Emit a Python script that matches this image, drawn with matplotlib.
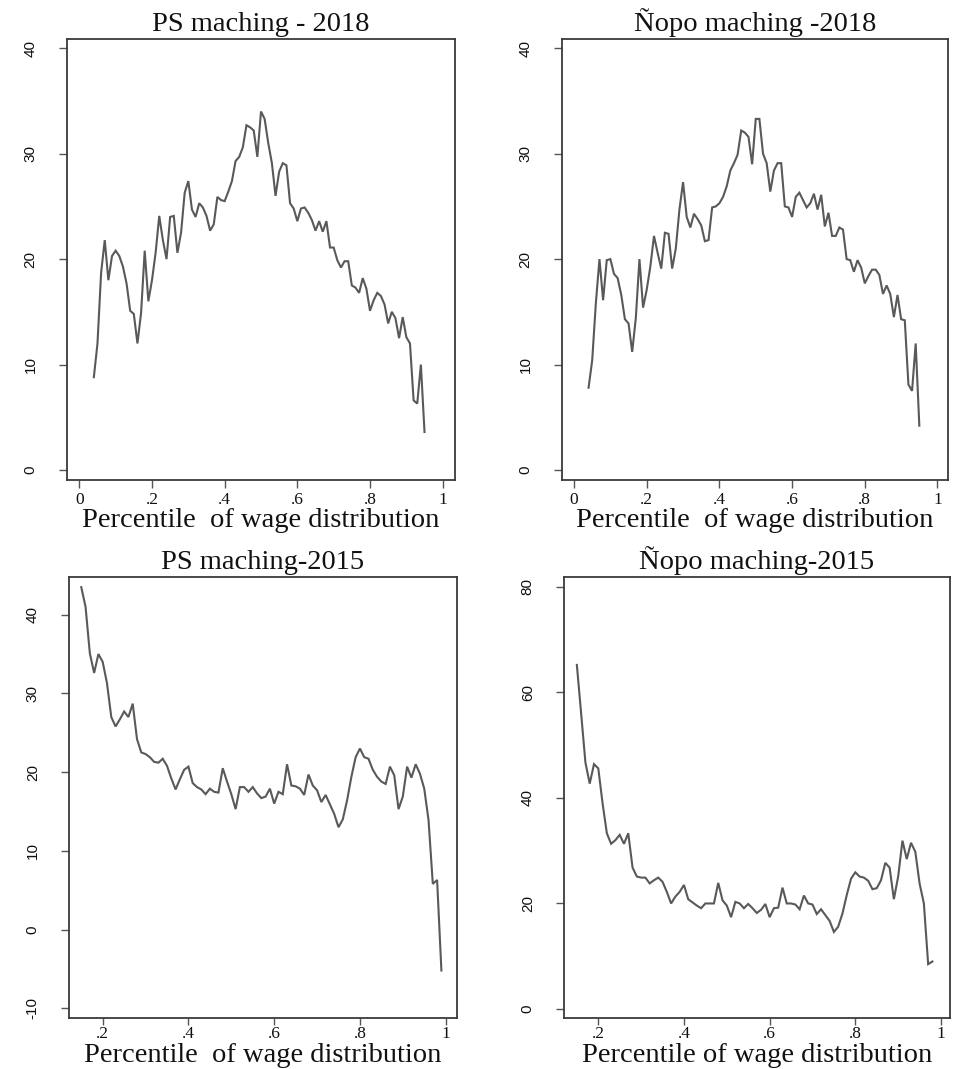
import numpy as np
import matplotlib
matplotlib.use("Agg")
import matplotlib.pyplot as plt

# Wage-gap estimates by percentile of the wage distribution
pct_2018 = np.round(np.arange(4, 96) / 100, 2)      # .04 ... .95
pct_ps_2015 = np.round(np.arange(15, 100) / 100, 2)  # .15 ... .99
pct_nopo_2015 = np.round(np.arange(15, 99) / 100, 2) # .15 ... .98

ps_2018 = [
    8.8, 12.0, 18.7, 21.8, 18.0, 20.3, 20.8, 20.3, 19.3, 17.7,
    15.1, 14.8, 12.0, 14.9, 20.8, 16.0, 18.0, 20.6, 24.1, 21.8,
    20.0, 24.0, 24.1, 20.6, 22.5, 26.3, 27.4, 24.7, 24.0, 25.3,
    24.9, 24.1, 22.7, 23.3, 25.9, 25.6, 25.5, 26.4, 27.4, 29.3,
    29.7, 30.6, 32.7, 32.5, 32.2, 29.7, 34.0, 33.3, 31.0, 29.1,
    26.0, 28.3, 29.1, 28.9, 25.3, 24.8, 23.6, 24.8, 24.9, 24.4,
    23.7, 22.7, 23.6, 22.6, 23.6, 21.1, 21.1, 19.9, 19.2, 19.8,
    19.8, 17.5, 17.3, 16.8, 18.2, 17.2, 15.1, 16.1, 16.8, 16.5,
    15.7, 13.9, 15.0, 14.4, 12.5, 14.5, 12.6, 12.0, 6.6, 6.3,
    10.0, 3.6,
]

nopo_2018 = [
    7.8, 10.4, 15.8, 20.0, 16.1, 19.9, 20.0, 18.6, 18.2, 16.6,
    14.3, 13.9, 11.2, 14.4, 20.0, 15.4, 17.1, 19.3, 22.2, 20.6,
    19.1, 22.5, 22.4, 19.1, 21.0, 24.7, 27.3, 24.0, 23.0, 24.3,
    23.8, 23.2, 21.7, 21.8, 24.9, 25.0, 25.3, 25.9, 26.9, 28.4,
    29.1, 29.9, 32.2, 32.0, 31.6, 29.0, 33.3, 33.3, 30.0, 29.1,
    26.4, 28.4, 29.1, 29.1, 25.0, 24.9, 24.0, 25.9, 26.3, 25.6,
    24.9, 25.3, 26.2, 24.7, 26.1, 23.1, 24.4, 22.2, 22.2, 23.0,
    22.8, 20.0, 19.9, 18.8, 19.9, 19.2, 17.7, 18.4, 19.0, 19.0,
    18.5, 16.7, 17.5, 16.7, 14.5, 16.6, 14.3, 14.2, 8.1, 7.5,
    12.0, 4.2,
]

ps_2015 = [
    43.5, 41.0, 35.1, 32.6, 35.0, 34.0, 31.3, 27.0, 25.8, 26.7,
    27.7, 27.0, 28.7, 24.2, 22.5, 22.3, 21.9, 21.3, 21.2, 21.7,
    20.8, 19.2, 17.8, 19.1, 20.3, 20.7, 18.6, 18.1, 17.8, 17.2,
    17.9, 17.5, 17.4, 20.5, 18.8, 17.2, 15.3, 18.1, 18.1, 17.5,
    18.1, 17.3, 16.7, 16.9, 17.9, 16.0, 17.5, 17.2, 21.0, 18.3,
    18.2, 17.9, 17.1, 19.7, 18.3, 17.7, 16.2, 17.1, 15.9, 14.7,
    13.0, 14.0, 16.4, 19.4, 21.9, 23.0, 21.9, 21.7, 20.3, 19.4,
    18.8, 18.5, 20.7, 19.6, 15.3, 16.9, 20.7, 19.3, 21.0, 19.8,
    17.9, 13.9, 5.8, 6.3, -5.2,
]

nopo_2015 = [
    65.2, 56.0, 46.7, 42.7, 46.4, 45.6, 39.0, 33.3, 31.3, 32.0,
    33.0, 31.3, 33.3, 26.8, 25.1, 24.9, 24.9, 23.8, 24.4, 24.9,
    24.1, 22.2, 20.0, 21.3, 22.2, 23.5, 20.8, 20.2, 19.6, 19.1,
    20.0, 20.0, 20.0, 23.9, 20.6, 19.6, 17.4, 20.3, 20.0, 19.1,
    19.9, 19.1, 18.2, 18.8, 19.9, 17.4, 19.1, 19.2, 23.0, 20.0,
    20.0, 19.8, 18.9, 21.5, 20.0, 19.8, 18.0, 18.9, 17.8, 16.7,
    14.6, 15.6, 18.1, 21.6, 24.7, 25.9, 25.1, 24.9, 24.3, 22.7,
    22.9, 24.4, 27.7, 26.8, 20.8, 25.1, 31.9, 28.4, 31.5, 29.8,
    23.8, 20.0, 8.5, 9.0,
]

titles = ["PS maching - 2018", "\u00d1opo maching -2018",
          "PS maching-2015", "\u00d1opo maching-2015"]
xlabels = ["Percentile  of wage distribution", "Percentile  of wage distribution",
           "Percentile  of wage distribution", "Percentile of wage distribution"]

top_xticks = [0, 0.2, 0.4, 0.6, 0.8, 1.0]
top_xticklabels = ["0", ".2", ".4", ".6", ".8", "1"]
bot_xticks = [0.2, 0.4, 0.6, 0.8, 1.0]
bot_xticklabels = [".2", ".4", ".6", ".8", "1"]

yticks_2018 = [0, 10, 20, 30, 40]
yticks_ps_2015 = [-10, 0, 10, 20, 30, 40]
yticks_nopo_2015 = [0, 20, 40, 60, 80]

W, H = 954, 1069
fig = plt.figure(figsize=(W / 100, H / 100), dpi=100)
fig.patch.set_facecolor("white")

serif = ["Liberation Serif", "DejaVu Serif"]
sans = ["Liberation Sans", "DejaVu Sans"]

LINE_C = "#595959"
FRAME_C = "#3a3a3a"
TEXT_C = "#111111"


def px_axes(left, right, top, bottom):
    return fig.add_axes([left / W, 1 - bottom / H, (right - left) / W, (bottom - top) / H])


def px_text(x, y, s, **kw):
    return fig.text(x / W, 1 - y / H, s, **kw)


panels = [
    dict(box=(66.7, 455, 39.3, 480), x=pct_2018, y=ps_2018,
         xlim=(-0.0347, 1.0339), ylim=(-0.95, 40.85), yt=yticks_2018,
         xt=top_xticks, xtl=top_xticklabels, lab_off=47, tlen=6, tpad=3),
    dict(box=(561.7, 948, 39.3, 480), x=pct_2018, y=nopo_2018,
         xlim=(-0.0339, 1.0289), ylim=(-0.95, 40.85), yt=yticks_2018,
         xt=top_xticks, xtl=top_xticklabels, lab_off=47, tlen=6, tpad=3),
    dict(box=(69, 456.7, 577.3, 1018.3), x=pct_ps_2015, y=ps_2015,
         xlim=(0.1214, 1.0257), ylim=(-11.27, 44.75), yt=yticks_ps_2015,
         xt=bot_xticks, xtl=bot_xticklabels, lab_off=44, tlen=5, tpad=0.5),
    dict(box=(564, 950, 577.3, 1018.3), x=pct_nopo_2015, y=nopo_2015,
         xlim=(0.12, 1.021), ylim=(-1.76, 81.8), yt=yticks_nopo_2015,
         xt=bot_xticks, xtl=bot_xticklabels, lab_off=44, tlen=5, tpad=0.5),
]

for i, p in enumerate(panels):
    left, right, top, bottom = p["box"]
    ax = px_axes(left, right, top, bottom)
    ax.plot(p["x"], p["y"], color=LINE_C, lw=1.5, solid_joinstyle="miter")
    ax.set_xlim(*p["xlim"])
    ax.set_ylim(*p["ylim"])
    ax.set_xticks(p["xt"])
    ax.set_xticklabels(p["xtl"], fontfamily=serif, fontsize=12.5)
    ax.set_yticks(p["yt"])
    ax.set_yticklabels([str(v) for v in p["yt"]], fontfamily=sans, fontsize=11,
                       rotation=90, va="center")
    for s in ax.spines.values():
        s.set_color(FRAME_C)
        s.set_linewidth(1.3)
    ax.tick_params(axis="both", direction="out", length=6, width=1.0,
                   color="#555555", labelcolor=TEXT_C)
    ax.tick_params(axis="x", length=p["tlen"], pad=p["tpad"])
    ax.tick_params(axis="y", pad=15)

    cx = (left + right) / 2
    px_text(cx, top - 8, titles[i], ha="center", va="baseline",
            fontfamily=serif, fontsize=20.5, color=TEXT_C)
    px_text(cx, bottom + p["lab_off"], xlabels[i], ha="center", va="baseline",
            fontfamily=serif, fontsize=20.5, color=TEXT_C)

fig.savefig("out.png", dpi=100, facecolor="white")
